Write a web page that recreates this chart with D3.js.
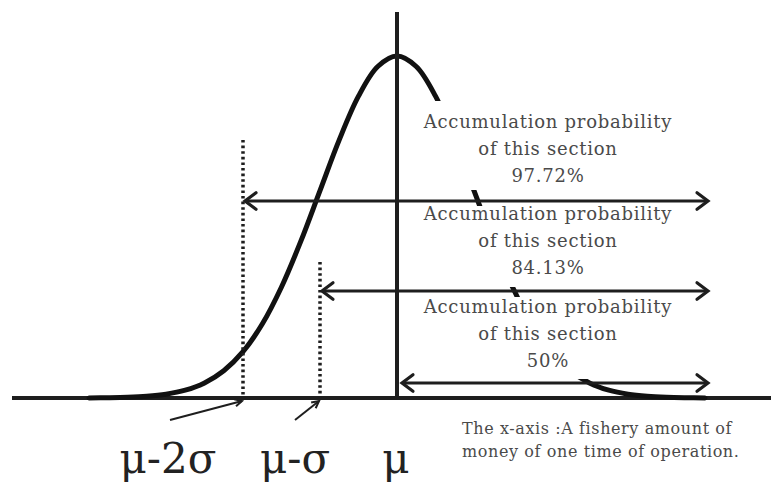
<!DOCTYPE html>
<html><head><meta charset="utf-8">
<script src="https://cdn.jsdelivr.net/npm/d3@7"></script>
<style>body{margin:0;background:#fff}svg{display:block}</style>
</head><body>
<svg id="c" width="771" height="482"></svg>
<script>
// z positions (in σ units) and relative density heights
const curveZ = [-4,-3.75,-3.5,-3.25,-3,-2.75,-2.5,-2.25,-2,-1.75,-1.5,-1.25,-1,-0.75,-0.5,-0.25,0,0.25,0.5,0.75,1,1.25,1.5,1.75,2,2.25,2.5,2.75,3,3.25,3.5,3.75,4];
const curveH = [0.0003,0.0009,0.0022,0.0051,0.0111,0.0228,0.0439,0.0796,0.1353,0.2163,0.3247,0.4578,0.6065,0.7548,0.8825,0.9692,1,0.9692,0.8825,0.7548,0.6065,0.4578,0.3247,0.2163,0.1353,0.0796,0.0439,0.0228,0.0111,0.0051,0.0022,0.0009,0.0003];
const markerZ = [-2,-1,0];
const markerLabels = ["μ-2σ","μ-σ","μ"];
const percents = ["97.72%","84.13%","50%"];
const boxLine1 = "Accumulation probability";
const boxLine2 = "of this section";
const noteLines = ["The x-axis :A fishery amount of","money of one time of operation."];

const svg = d3.select("#c");
const x = d3.scaleLinear().domain([0,1]).range([397,474]); // one σ ≈ 77px
const y = d3.scaleLinear().domain([0,1]).range([398,56]);
const ink = "#1e1e1e";

// x axis
svg.append("line").attr("x1",12).attr("x2",771).attr("y1",y(0)).attr("y2",y(0))
  .attr("stroke",ink).attr("stroke-width",4);

// curve
const line = d3.line().x((d,i)=>x(curveZ[i])).y(d=>y(d)).curve(d3.curveCatmullRom);
svg.append("path").attr("d",line(curveH)).attr("fill","none").attr("stroke","#111")
  .attr("stroke-width",5).attr("stroke-linecap","round");

// μ vertical line
svg.append("line").attr("x1",x(0)).attr("x2",x(0)).attr("y1",12).attr("y2",y(0))
  .attr("stroke",ink).attr("stroke-width",4);

// dotted lines
const dotTop = [140,262];
markerZ.slice(0,2).forEach((z,i)=>{
  svg.append("line").attr("x1",x(z)).attr("x2",x(z)).attr("y1",dotTop[i]).attr("y2",y(0))
    .attr("stroke",ink).attr("stroke-width",3.5)
    .attr("stroke-dasharray","2.6,3");
});

// white boxes & text
const boxTops = [101,206,297];
const boxBots = [190,287,379];
const arrowY = [201,291,383];
const textY = [128,220,313];
percents.forEach((p,i)=>{
  svg.append("rect").attr("x",404).attr("y",boxTops[i]).attr("width",296)
    .attr("height",boxBots[i]-boxTops[i]).attr("fill","#fff");
  const g = svg.append("g").attr("font-family","DejaVu Serif").attr("font-size",18)
    .attr("letter-spacing",0.75).attr("fill","#4a4a4a").attr("text-anchor","middle");
  [boxLine1,boxLine2,p].forEach((t,k)=>{
    g.append("text").attr("x",548).attr("y",textY[i]+k*27).text(t);
  });
});

// double arrows
function head(px,py,dir,size,w){
  svg.append("path")
    .attr("d",`M${px-dir*size},${py-size*0.75}L${px},${py}L${px-dir*size},${py+size*0.75}`)
    .attr("fill","none").attr("stroke",ink).attr("stroke-width",w)
    .attr("stroke-linejoin","miter").attr("stroke-linecap","round");
}
markerZ.forEach((z,i)=>{
  const x0 = x(z)+ (i===2?5:2), x1 = 708;
  svg.append("line").attr("x1",x0).attr("x2",x1-2).attr("y1",arrowY[i]).attr("y2",arrowY[i])
    .attr("stroke",ink).attr("stroke-width",3);
  head(x0,arrowY[i],-1,11,3.2);
  head(x1,arrowY[i],1,11,3.2);
});

// small pointer arrows to σ marks
const ptrFrom = [[170,420],[295,420]];
markerZ.slice(0,2).forEach((z,i)=>{
  const [fx,fy] = ptrFrom[i], tx = x(z)-1, ty = y(0)+3;
  svg.append("line").attr("x1",fx).attr("y1",fy).attr("x2",tx).attr("y2",ty)
    .attr("stroke",ink).attr("stroke-width",2);
  const ang = Math.atan2(ty-fy,tx-fx), s=8;
  const a1 = ang+Math.PI*0.85, a2 = ang-Math.PI*0.85;
  svg.append("path").attr("d",`M${tx+s*Math.cos(a1)},${ty+s*Math.sin(a1)}L${tx},${ty}L${tx+s*Math.cos(a2)},${ty+s*Math.sin(a2)}`)
    .attr("fill","none").attr("stroke",ink).attr("stroke-width",2);
});

// marker labels
const labelX = [168,295,396];
markerLabels.forEach((t,i)=>{
  svg.append("text").attr("x",labelX[i]).attr("y",473).attr("text-anchor","middle")
    .attr("font-family","DejaVu Serif").attr("font-size",42).attr("fill","#222").text(t);
});

// note
noteLines.forEach((t,i)=>{
  svg.append("text").attr("x",462).attr("y",434+i*23)
    .attr("font-family","DejaVu Serif").attr("font-size",16).attr("letter-spacing",0.6)
    .attr("fill","#4a4a4a").text(t);
});
</script>
</body></html>
